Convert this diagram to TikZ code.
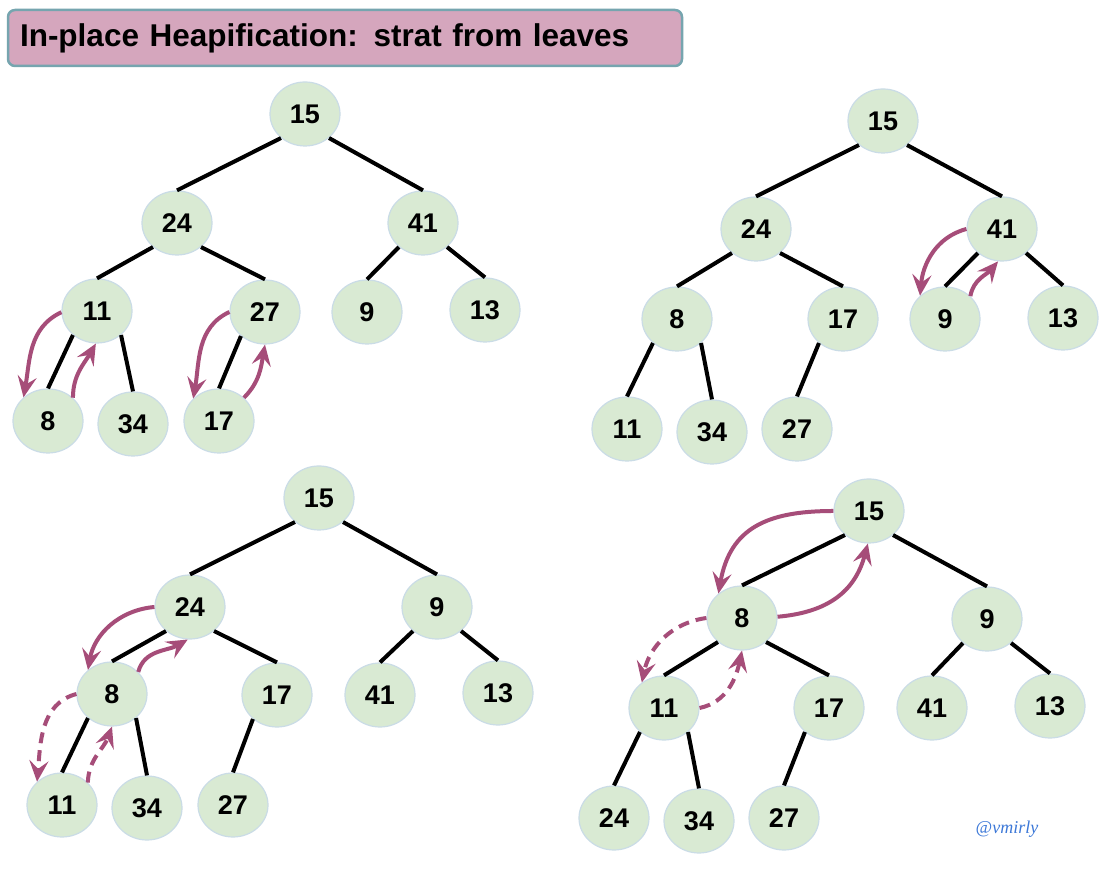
\documentclass[tikz,border=0pt]{standalone}
\usepackage{fontspec}
\setmainfont{Liberation Sans}
\newfontfamily\wmfont{Liberation Serif}
\usetikzlibrary{shapes.geometric,arrows.meta}
\definecolor{nodefill}{HTML}{D9EAD3}
\definecolor{nodeline}{HTML}{CADCE6}
\definecolor{arr}{HTML}{A64D79}
\definecolor{titlefill}{HTML}{D5A6BD}
\definecolor{titleline}{HTML}{76A5AF}
\definecolor{wmcol}{HTML}{3C78D8}
\newcommand{\edgeL}[2]{\draw[edge] (#1.225) -- (#2.90);}
\newcommand{\edgeR}[2]{\draw[edge] (#1.315) -- (#2.90);}
\begin{document}
\begin{tikzpicture}[x=1pt,y=1pt,
  hn/.style={ellipse,draw=nodeline,line width=1.2pt,fill=nodefill,minimum width=70pt,minimum height=64pt,inner sep=0pt,font=\fontsize{27}{27}\selectfont\bfseries},
  edge/.style={line width=4pt,black},
  swap/.style={line width=4pt,draw=arr,-{Stealth[length=21pt,width=19pt,inset=8pt]}},
  dswap/.style={swap,dash pattern=on 11pt off 7pt},
  titlebox/.style={draw=titleline,fill=titlefill,line width=2.5pt,rounded corners=7pt,minimum height=56pt,inner xsep=12pt,text width=650pt,align=left,font=\fontsize{31.5}{31.5}\selectfont\bfseries}]
\useasboundingbox (0,0) rectangle (1104,880);
\fill[white] (0,0) rectangle (1104,880);

\node[titlebox] (title) at (345,842) {In-place Heapification: strat from leaves};

% ---------- panel 1 ----------
\node[hn] (a15) at (305,766) {15};
\node[hn] (a24) at (177,657) {24};
\node[hn] (a41) at (423,657) {41};
\node[hn] (a11) at (97,569) {11};
\node[hn] (a27) at (265,568) {27};
\node[hn] (a9)  at (367,568) {9};
\node[hn] (a13) at (485,570) {13};
\node[hn] (a8)  at (48,459) {8};
\node[hn] (a34) at (133,456) {34};
\node[hn] (a17) at (219,459) {17};
\edgeL{a15}{a24} \edgeR{a15}{a41}
\edgeL{a24}{a11} \edgeR{a24}{a27}
\edgeL{a41}{a9}  \edgeR{a41}{a13}
\edgeL{a11}{a8}  \edgeR{a11}{a34}
\edgeL{a27}{a17}
\draw[swap] (a11.182) to[out=205,in=80] (a8.136);
\draw[swap] (a8.43) to[out=90,in=240] (a11.268);
\draw[swap] (a27.180) to[out=205,in=80] (a17.139);
\draw[swap] (a17.43) to[out=45,in=260] (a27.270);

% ---------- panel 2 ----------
\node[hn] (b15) at (883,759) {15};
\node[hn] (b24) at (756,651) {24};
\node[hn] (b41) at (1002,651) {41};
\node[hn] (b8)  at (677,561) {8};
\node[hn] (b17) at (843,561) {17};
\node[hn] (b9)  at (945,561) {9};
\node[hn] (b13) at (1063,562) {13};
\node[hn] (b11) at (627,451) {11};
\node[hn] (b34) at (712,448) {34};
\node[hn] (b27) at (797,451) {27};
\edgeL{b15}{b24} \edgeR{b15}{b41}
\edgeL{b24}{b8}  \edgeR{b24}{b17}
\edgeL{b41}{b9}  \edgeR{b41}{b13}
\edgeL{b8}{b11}  \edgeR{b8}{b34}
\edgeL{b17}{b27}
\draw[swap] (b41.180) to[out=195,in=85] (b9.137);
\draw[swap] (b9.42) to[out=80,in=230] (b41.263);

% ---------- panel 3 ----------
\node[hn] (c15) at (319,382) {15};
\node[hn] (c24) at (190,273) {24};
\node[hn] (c9)  at (437,273) {9};
\node[hn] (c8)  at (112,186) {8};
\node[hn] (c17) at (277,185) {17};
\node[hn] (c41) at (380,185) {41};
\node[hn] (c13) at (498,187) {13};
\node[hn] (c11) at (62,75) {11};
\node[hn] (c34) at (147,72) {34};
\node[hn] (c27) at (233,75) {27};
\edgeL{c15}{c24} \edgeR{c15}{c9}
\edgeL{c24}{c8}  \edgeR{c24}{c17}
\edgeL{c9}{c41}  \edgeR{c9}{c13}
\edgeL{c8}{c11}  \edgeR{c8}{c34}
\edgeL{c17}{c27}
\draw[swap] (c24.180) to[out=185,in=80] (c8.135);
\draw[swap] (c8.40) to[out=75,in=210] (c24.266);
\draw[dswap] (c8.180) to[out=195,in=85] (c11.137);
\draw[dswap] (c11.41) to[out=88,in=250] (c8.270);

% ---------- panel 4 ----------
\node[hn] (d15) at (869,369) {15};
\node[hn] (d8)  at (742,262) {8};
\node[hn] (d9)  at (987,261) {9};
\node[hn] (d11) at (664,172) {11};
\node[hn] (d17) at (829,172) {17};
\node[hn] (d41) at (932,172) {41};
\node[hn] (d13) at (1050,174) {13};
\node[hn] (d24) at (614,62) {24};
\node[hn] (d34) at (699,59) {34};
\node[hn] (d27) at (784,62) {27};
\edgeL{d15}{d8}  \edgeR{d15}{d9}
\edgeL{d8}{d11}  \edgeR{d8}{d17}
\edgeL{d9}{d41}  \edgeR{d9}{d13}
\edgeL{d11}{d24} \edgeR{d11}{d34}
\edgeL{d17}{d27}
\draw[swap] (d15.180) to[out=180,in=80,looseness=1.2] (d8.134);
\draw[swap] (d8.2) to[out=5,in=255,looseness=1.1] (d15.268);
\draw[dswap] (d8.180) to[out=188,in=78] (d11.131);
\draw[dswap] (d11.0) to[out=12,in=258] (d8.270);

\node[text=wmcol,font=\wmfont\itshape\fontsize{18}{18}\selectfont] (wm) at (1007,51) {@vmirly};
\end{tikzpicture}
\end{document}
